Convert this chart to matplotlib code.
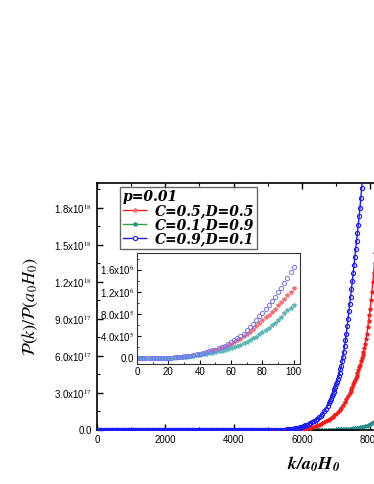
import numpy as np
import matplotlib
matplotlib.use("Agg")
import matplotlib.pyplot as plt
from matplotlib.lines import Line2D
from matplotlib.ticker import FixedLocator, FixedFormatter, MultipleLocator

plt.rcParams['font.family'] = ['Liberation Sans', 'DejaVu Sans']
plt.rcParams['mathtext.fontset'] = 'stix'

# ---- main panel data (values in units of 1e17) ----
# flat part: every curve sits on zero up to these k
k_flat_blue = np.arange(0, 5000, 25)
k_flat_red = np.arange(0, 5500, 25)
k_flat_green = np.arange(0, 6500, 25)

k_blue = [5000, 5050, 5100, 5150, 5200, 5250, 5300, 5350, 5400, 5450, 5500, 5550,
          5600, 5650, 5700, 5750, 5800, 5850, 5900, 5950, 6000, 6050, 6100, 6150,
          6200, 6250, 6300, 6350, 6400, 6450, 6500, 6550, 6600, 6650, 6700, 6750,
          6800, 6825, 6850, 6875, 6900, 6925, 6950, 6975, 7000, 7025, 7050, 7075,
          7100, 7125, 7150, 7175, 7200, 7225, 7250, 7275, 7300, 7325, 7350, 7375,
          7400, 7425, 7450, 7475, 7500, 7525, 7550, 7575, 7600, 7625, 7650, 7675,
          7700, 7725, 7750, 7775, 7800]
p_blue = [0.00, 0.00, 0.01, 0.01, 0.01, 0.01, 0.02, 0.02, 0.02, 0.03, 0.04, 0.05,
          0.06, 0.08, 0.10, 0.12, 0.14, 0.17, 0.20, 0.24, 0.28, 0.33, 0.38, 0.44,
          0.50, 0.57, 0.64, 0.72, 0.80, 0.91, 1.03, 1.16, 1.30, 1.50, 1.72, 1.95,
          2.20, 2.37, 2.55, 2.72, 2.90, 3.10, 3.30, 3.50, 3.70, 3.92, 4.15, 4.37,
          4.60, 4.90, 5.20, 5.55, 5.90, 6.35, 6.80, 7.30, 7.80, 8.40, 9.00, 9.60,
          10.2, 10.8, 11.4, 12.05, 12.7, 13.35, 14.0, 14.65, 15.3, 15.95, 16.6, 17.3,
          18.0, 18.8, 19.6, 20.45, 21.3]

k_red = [5500, 5550, 5600, 5650, 5700, 5750, 5800, 5850, 5900, 5950, 6000, 6050,
         6100, 6150, 6200, 6250, 6300, 6350, 6400, 6450, 6500, 6550, 6600, 6650,
         6700, 6750, 6800, 6850, 6900, 6950, 7000, 7050, 7100, 7150, 7200, 7250,
         7300, 7350, 7400, 7425, 7450, 7475, 7500, 7525, 7550, 7575, 7600, 7625,
         7650, 7675, 7700, 7725, 7750, 7775, 7800, 7825, 7850, 7875, 7900, 7925,
         7950, 7975, 8000, 8025, 8050, 8075, 8100, 8125, 8150, 8175, 8200]
p_red = [0.00, 0.01, 0.01, 0.01, 0.01, 0.02, 0.02, 0.03, 0.04, 0.05, 0.06, 0.08,
         0.10, 0.12, 0.15, 0.19, 0.23, 0.27, 0.32, 0.37, 0.43, 0.49, 0.55, 0.62,
         0.69, 0.77, 0.85, 0.95, 1.06, 1.18, 1.30, 1.46, 1.63, 1.81, 2.00, 2.24,
         2.49, 2.74, 3.00, 3.17, 3.35, 3.52, 3.70, 3.87, 4.05, 4.22, 4.40, 4.62,
         4.85, 5.07, 5.30, 5.55, 5.80, 6.05, 6.30, 6.65, 7.00, 7.40, 7.80, 8.30,
         8.80, 9.30, 9.80, 10.5, 11.2, 11.95, 12.7, 13.5, 14.3, 15.1, 16.0]

k_green = [6500, 6550, 6600, 6650, 6700, 6750, 6800, 6850, 6900, 6950, 7000, 7050,
           7100, 7150, 7200, 7250, 7300, 7350, 7400, 7450, 7500, 7550, 7600, 7650,
           7700, 7750, 7800, 7850, 7900, 7950, 8000, 8050, 8100, 8150, 8200]
p_green = [0.01, 0.01, 0.01, 0.02, 0.02, 0.02, 0.03, 0.03, 0.03, 0.04, 0.04, 0.05,
           0.05, 0.06, 0.07, 0.07, 0.08, 0.09, 0.11, 0.12, 0.14, 0.16, 0.18, 0.20,
           0.22, 0.25, 0.28, 0.32, 0.36, 0.41, 0.47, 0.54, 0.62, 0.71, 0.80]

# ---- inset data (values in units of 1e6) ----
k_inset = np.arange(0, 101, 2)
q_blue = [0.000, 0.000, 0.000, 0.001, 0.001, 0.002, 0.003, 0.004, 0.006, 0.008,
          0.011, 0.014, 0.018, 0.023, 0.029, 0.036, 0.044, 0.053, 0.063, 0.074,
          0.086, 0.099, 0.113, 0.128, 0.144, 0.161, 0.181, 0.204, 0.230, 0.260,
          0.292, 0.325, 0.362, 0.402, 0.448, 0.505, 0.565, 0.625, 0.690, 0.760,
          0.825, 0.895, 0.960, 1.040, 1.110, 1.195, 1.275, 1.360, 1.450, 1.550, 1.655]
q_red = [0.000, 0.000, 0.000, 0.001, 0.001, 0.002, 0.003, 0.004, 0.006, 0.008,
         0.011, 0.014, 0.018, 0.022, 0.028, 0.035, 0.042, 0.050, 0.059, 0.069,
         0.080, 0.092, 0.105, 0.119, 0.134, 0.150, 0.167, 0.187, 0.210, 0.236,
         0.263, 0.292, 0.324, 0.358, 0.396, 0.436, 0.482, 0.530, 0.581, 0.635,
         0.690, 0.740, 0.790, 0.845, 0.900, 0.960, 1.020, 1.080, 1.140, 1.205, 1.275]
q_green = [0.000, 0.000, 0.000, 0.001, 0.001, 0.002, 0.003, 0.004, 0.005, 0.007,
           0.009, 0.012, 0.015, 0.019, 0.023, 0.028, 0.034, 0.040, 0.047, 0.055,
           0.063, 0.072, 0.082, 0.093, 0.104, 0.116, 0.129, 0.143, 0.158, 0.174,
           0.191, 0.210, 0.230, 0.251, 0.275, 0.300, 0.330, 0.360, 0.395, 0.435,
           0.470, 0.510, 0.550, 0.595, 0.645, 0.700, 0.750, 0.810, 0.865, 0.915, 0.970]

labels = ['C=0.5,D=0.5', 'C=0.1,D=0.9', 'C=0.9,D=0.1']
yticks_main = [0.0, 3.0e17, 6.0e17, 9.0e17, 1.2e18, 1.5e18, 1.8e18]
ytick_labels_main = ['0.0', r'3.0x10$^{17}$', r'6.0x10$^{17}$', r'9.0x10$^{17}$',
                     r'1.2x10$^{18}$', r'1.5x10$^{18}$', r'1.8x10$^{18}$']
yticks_inset = [0.0, 4.0e5, 8.0e5, 1.2e6, 1.6e6]
ytick_labels_inset = ['0.0', r'4.0x10$^{5}$', r'8.0x10$^{5}$', r'1.2x10$^{6}$',
                      r'1.6x10$^{6}$']

red = '#ff1a1a'
green = '#2e9e3e'
teal = '#2a8c8c'
blue = '#1a1aff'

fig = plt.figure(figsize=(3.74, 4.84), dpi=100)
ax = fig.add_axes([97/374, 54/484, 307.4/374, 247/484])

def full(kf, k, p):
    return np.concatenate([kf, k]), np.concatenate([np.zeros(len(kf)), np.array(p)]) * 1e17

kg, pg = full(k_flat_green, k_green, p_green)
kr, pr = full(k_flat_red, k_red, p_red)
kb, pb = full(k_flat_blue, k_blue, p_blue)

ax.plot(kg, pg, '-', color=teal, lw=1, marker='*', ms=2.8, mfc=teal, mec=teal, zorder=2)
ax.plot(kr, pr, '-', color=red, lw=1, marker='*', ms=2.8, mfc=red, mec=red, zorder=3)
ax.plot(kb, pb, '-', color=blue, lw=1, marker='o', ms=3.0, mfc='none', mec=blue,
        mew=0.8, zorder=4)

ax.set_xlim(0, 9000)
ax.set_ylim(0, 2.0e18)
ax.xaxis.set_major_locator(MultipleLocator(2000))
ax.xaxis.set_minor_locator(MultipleLocator(1000))
ax.yaxis.set_major_locator(FixedLocator(yticks_main))
ax.yaxis.set_major_formatter(FixedFormatter(ytick_labels_main))
ax.yaxis.set_minor_locator(MultipleLocator(1.5e17))
ax.tick_params(which='both', direction='in', top=True, right=True, labelsize=7)
ax.tick_params(which='major', length=4, width=1)
ax.tick_params(which='minor', length=2, width=0.8)
for s in ax.spines.values():
    s.set_linewidth(1.2)

ax.set_ylabel(r'$\mathcal{P}(k)/\mathcal{P}(a_0H_0)$', fontsize=13)
ax.yaxis.set_label_coords(-0.185, 0.5)
ax.set_xlabel(r'$\mathbfit{k/a_0H_0}$', fontsize=13)
ax.xaxis.set_label_coords(0.703, -0.10)

# legend key: green line with teal markers, as in the original
h_red = Line2D([], [], color=red, lw=1, marker='*', ms=3, mfc='#ff7070', mec='#ff7070')
h_green = Line2D([], [], color=green, lw=1, marker='*', ms=3, mfc=teal, mec=teal)
h_blue = Line2D([], [], color=blue, lw=1, marker='o', ms=3, mfc='white', mec=blue, mew=0.8)
leg_font = {'family': 'DejaVu Serif', 'weight': 'bold', 'style': 'italic', 'size': 10}
leg = ax.legend([h_red, h_green, h_blue], labels,
                loc='upper left', bbox_to_anchor=(120/374, 1 - 187/484),
                bbox_transform=fig.transFigure, frameon=True, fancybox=False,
                edgecolor='#444444', handlelength=1.7, handletextpad=0.6,
                borderpad=0.2, labelspacing=0.0, borderaxespad=0,
                prop=leg_font, title='p=0.01', alignment='left',
                title_fontproperties=leg_font)
leg.get_frame().set_linewidth(1.0)

# ---- inset ----
ins = fig.add_axes([137/374, 1 - 364/484, 163/374, 111/484])
ins.plot(k_inset, np.array(q_red) * 1e6, '*', color='#ff7070', ms=3.0, ls='none')
ins.plot(k_inset, np.array(q_green) * 1e6, '*', color='#5fb8b8', ms=3.0, ls='none')
ins.plot(k_inset, np.array(q_blue) * 1e6, 'o', mfc='none', mec='#7373ff', ms=3.0,
         mew=0.7, ls='none')
ins.set_xlim(0, 104)
ins.set_ylim(-0.1e6, 1.9e6)
ins.xaxis.set_major_locator(MultipleLocator(20))
ins.xaxis.set_minor_locator(MultipleLocator(10))
ins.yaxis.set_major_locator(FixedLocator(yticks_inset))
ins.yaxis.set_major_formatter(FixedFormatter(ytick_labels_inset))
ins.yaxis.set_minor_locator(MultipleLocator(2e5))
ins.tick_params(which='both', direction='in', labelsize=7, pad=2)
ins.tick_params(which='major', length=3)
ins.tick_params(which='minor', length=1.5)
for s in ins.spines.values():
    s.set_linewidth(0.8)
    s.set_color('#333333')

fig.savefig('out.png', dpi=100)
